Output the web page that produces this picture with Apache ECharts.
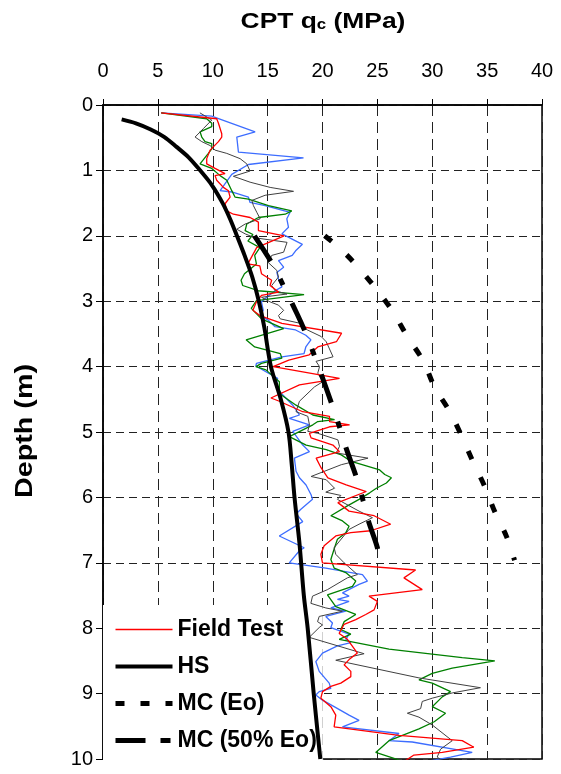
<!DOCTYPE html>
<html><head><meta charset="utf-8">
<script src="https://cdn.jsdelivr.net/npm/echarts@6/dist/echarts.min.js"></script>
<style>html,body{margin:0;padding:0;background:#fff}#c{width:561px;height:774px}</style>
</head><body><div id="c"></div>
<script>
// ---- data: [qc (MPa), depth (m)] ----
const fieldRed = [[5.3,0.12],[10.36,0.21],[10.52,0.28],[10.82,0.44],[10.82,0.49],[10.52,0.56],[9.76,0.69],[9.45,0.82],[9.45,0.90],[10.21,0.97],[11.12,1.05],[10.21,1.08],[10.36,1.15],[10.97,1.26],[11.43,1.31],[11.58,1.41],[11.12,1.51],[11.28,1.62],[11.88,1.67],[13.4,1.72],[14.16,1.79],[14.16,1.92],[16.5,2.0],[14.0,2.18],[13.2,2.43],[14.29,2.46],[14.44,2.58],[15.37,2.68],[15.22,2.76],[16.0,2.86],[14.44,2.91],[13.98,3.01],[13.66,3.14],[14.29,3.22],[16.3,3.34],[21.74,3.49],[21.27,3.62],[19.57,3.70],[18.79,3.82],[16.93,3.90],[15.5,4.0],[21.55,4.18],[17.9,4.28],[15.3,4.48],[16.07,4.53],[18.2,4.69],[20.64,4.76],[20.64,4.84],[22.47,4.89],[20.64,4.92],[18.81,5.02],[18.96,5.09],[20.95,5.20],[21.55,5.30],[19.42,5.40],[19.88,5.55],[20.49,5.70],[22.16,5.81],[23.99,5.91],[21.4,6.08],[22.42,6.21],[24.7,6.28],[26.21,6.41],[24.39,6.51],[22.58,6.54],[21.21,6.59],[20.15,6.74],[19.85,6.87],[20.0,7.0],[28.48,7.11],[27.42,7.23],[29.09,7.41],[24.24,7.51],[25.0,7.59],[24.7,7.72],[23.94,7.79],[23.03,7.87],[21.97,7.94],[21.52,8.08],[22.27,8.17],[23.18,8.38],[22.42,8.48],[21.97,8.56],[22.58,8.66],[22.58,8.74],[21.67,8.84],[20.76,8.89],[20.0,8.97],[19.85,9.07],[20.76,9.20],[21.21,9.33],[21.06,9.51],[26.97,9.64],[32.73,9.72],[33.79,9.82],[30.91,9.90],[28.33,9.94],[27.42,10.04]];
const fieldBlue = [[5.3,0.12],[9.9,0.17],[13.86,0.41],[12.19,0.49],[12.34,0.72],[18.27,0.81],[13.25,0.91],[11.73,1.06],[10.67,1.31],[11.73,1.33],[13.25,1.41],[13.4,1.49],[14.77,1.54],[17.05,1.64],[16.75,1.74],[16.9,1.87],[16.3,1.97],[18.17,2.13],[17.55,2.23],[17.24,2.30],[15.99,2.38],[16.46,2.48],[15.84,2.56],[15.99,2.66],[16.3,2.78],[15.68,2.84],[14.91,2.94],[14.44,3.01],[14.6,3.14],[14.29,3.22],[15.06,3.29],[15.68,3.39],[17.55,3.44],[18.48,3.52],[18.94,3.59],[18.48,3.70],[18.32,3.80],[16.3,3.85],[13.98,3.95],[13.93,3.99],[15.91,4.18],[15.76,4.31],[16.37,4.43],[17.29,4.59],[17.9,4.74],[16.98,4.79],[18.81,4.89],[17.29,4.99],[18.2,5.20],[18.81,5.30],[17.44,5.40],[17.59,5.60],[17.9,5.70],[18.5,5.81],[18.96,5.96],[19.09,6.03],[18.03,6.18],[17.6,6.25],[18.2,6.37],[16.06,6.59],[18.33,6.77],[17.88,6.82],[16.97,7.0],[20.3,7.08],[23.64,7.18],[24.09,7.28],[23.33,7.33],[21.82,7.46],[22.42,7.51],[21.36,7.56],[22.42,7.59],[20.76,7.69],[22.12,7.74],[20.3,7.82],[20.91,7.92],[20.76,7.99],[22.42,8.09],[22.12,8.17],[22.58,8.22],[21.36,8.27],[20.0,8.38],[19.39,8.51],[19.7,8.66],[20.61,8.84],[20.76,8.92],[19.7,8.97],[19.39,9.02],[20.0,9.10],[21.06,9.20],[22.42,9.33],[23.33,9.41],[21.82,9.51],[26.97,9.61],[26.06,9.72],[28.18,9.74],[33.64,9.90],[31.67,9.97],[29.39,10.04]];
const fieldGreen = [[5.3,0.12],[9.45,0.21],[9.91,0.28],[9.91,0.33],[8.84,0.41],[9.0,0.49],[9.3,0.56],[9.91,0.59],[9.91,0.67],[9.6,0.74],[8.84,0.90],[9.91,0.97],[10.67,1.08],[11.28,1.15],[11.73,1.31],[12.04,1.41],[13.25,1.44],[15.08,1.54],[17.2,1.62],[16.6,1.67],[14.16,1.72],[13.1,1.82],[12.95,1.92],[13.66,1.98],[13.2,2.08],[14.29,2.18],[13.82,2.30],[13.98,2.43],[12.89,2.58],[12.58,2.68],[12.73,2.76],[14.13,2.84],[18.32,2.90],[13.98,2.99],[13.51,3.11],[14.44,3.27],[16.46,3.42],[16.61,3.44],[13.04,3.59],[13.82,3.70],[16.15,3.80],[16.3,3.87],[14.44,3.95],[13.93,4.0],[14.85,4.05],[16.07,4.23],[16.07,4.36],[16.22,4.43],[17.59,4.59],[19.12,4.74],[21.1,4.81],[19.57,4.84],[19.12,4.89],[16.98,5.07],[18.51,5.20],[20.34,5.27],[21.71,5.35],[22.62,5.45],[25.21,5.58],[25.67,5.65],[26.28,5.70],[25.82,5.78],[24.91,5.86],[24.3,5.93],[23.33,6.03],[22.27,6.13],[20.76,6.28],[21.82,6.36],[22.42,6.44],[22.12,6.54],[21.36,6.64],[21.06,6.79],[20.76,6.95],[21.06,7.08],[22.12,7.15],[23.03,7.28],[22.73,7.36],[20.45,7.49],[21.21,7.67],[22.27,7.74],[23.03,7.79],[21.97,7.90],[21.67,8.02],[22.58,8.09],[21.52,8.17],[26.06,8.32],[32.73,8.45],[35.7,8.50],[31.82,8.61],[30.0,8.69],[28.79,8.79],[30.0,8.84],[31.67,8.97],[30.91,9.05],[30.0,9.20],[31.21,9.30],[30.18,9.43],[28.79,9.54],[26.06,9.72],[24.85,9.90],[27.42,10.04]];
const fieldGray = [[8.83,0.12],[9.91,0.23],[9.15,0.36],[8.39,0.49],[9.0,0.56],[9.76,0.62],[10.21,0.69],[11.28,0.74],[12.49,0.82],[13.1,0.90],[13.4,1.01],[11.88,1.09],[13.4,1.18],[15.23,1.26],[17.36,1.32],[14.77,1.38],[13.56,1.46],[13.71,1.54],[14.01,1.64],[14.32,1.74],[12.95,1.82],[12.19,1.90],[12.95,1.97],[13.82,2.03],[16.77,2.10],[16.46,2.25],[15.37,2.30],[15.06,2.41],[15.84,2.53],[15.99,2.63],[15.37,2.76],[15.68,2.84],[16.77,2.89],[14.44,2.94],[15.22,3.01],[15.99,3.06],[16.46,3.14],[15.99,3.22],[16.15,3.27],[18.01,3.34],[18.63,3.44],[19.88,3.54],[20.34,3.62],[20.96,3.85],[19.41,3.92],[19.73,4.0],[19.57,4.10],[20.03,4.23],[19.27,4.31],[17.9,4.53],[17.59,4.69],[18.66,4.76],[18.81,4.89],[18.66,4.99],[19.57,5.02],[21.4,5.12],[21.55,5.22],[21.25,5.32],[24.15,5.40],[21.71,5.50],[18.96,5.68],[20.34,5.73],[21.1,5.86],[20.3,5.92],[21.67,5.97],[21.36,6.03],[23.33,6.21],[24.55,6.31],[23.33,6.41],[22.42,6.49],[21.06,6.77],[21.21,6.87],[21.97,7.0],[23.18,7.18],[22.27,7.23],[20.45,7.41],[19.09,7.51],[18.94,7.62],[20.3,7.69],[21.82,7.74],[19.7,7.82],[19.55,7.90],[20.0,7.95],[19.7,7.99],[18.79,8.14],[23.79,8.39],[21.21,8.49],[28.79,8.76],[34.39,8.91],[31.82,8.99],[30.0,9.07],[29.09,9.12],[28.94,9.23],[27.73,9.30],[28.79,9.36],[30.0,9.48],[31.82,9.72],[30.76,9.85],[30.45,9.97],[31.0,10.04]];
const hsCurve = [[1.7,0.22],[3.0,0.28],[4.3,0.37],[5.6,0.49],[6.7,0.64],[7.8,0.8],[8.8,0.99],[9.9,1.22],[10.9,1.5],[11.6,1.75],[12.2,2.0],[12.9,2.3],[13.6,2.63],[14.2,3.0],[14.7,3.4],[15.3,4.0],[16.2,4.5],[16.9,5.0],[17.2,5.5],[17.45,6.0],[17.9,6.7],[18.3,7.5],[18.65,8.0],[19.2,9.0],[19.8,10.0]];
const mcEo = [[20.2,2.0],[21.5,2.18],[22.65,2.37],[24.6,2.75],[26.3,3.13],[27.66,3.52],[29.2,3.92],[30.2,4.31],[31.6,4.69],[32.7,5.07],[33.7,5.45],[34.8,5.84],[35.7,6.22],[36.77,6.6],[37.5,6.96]];
const mc50 = [[13.8,2.0],[15.4,2.42],[16.4,2.75],[17.7,3.2],[18.5,3.5],[19.3,3.85],[20.0,4.17],[20.9,4.6],[21.6,4.95],[22.2,5.27],[23.1,5.7],[23.7,6.05],[24.2,6.37],[25.0,6.77],[25.2,7.0]];
const legendNames = ['Field Test','HS','MC (Eo)','MC (50% Eo)'];
const xTickLabels = ['0','5','10','15','20','25','30','35','40'];
const yTickLabels = ['0','1','2','3','4','5','6','7','8','9','10'];
const xTitle = ['CPT q', 'c', ' (MPa)'];
const yTitle = 'Depth (m)';

const FONT = 'Arial, "Liberation Sans", Helvetica, sans-serif';
const chart = echarts.init(document.getElementById('c'), null, {renderer:'canvas'});
function fieldSeries(name, data, color, width){
  return {name:name, type:'line', data:data, symbol:'none', showSymbol:false, z:5,
    lineStyle:{color:color, width:width}, itemStyle:{color:color}, animation:false};
}
const option = {
  animation:false,
  backgroundColor:'#fff',
  graphic:[
    {type:'text', x:323, y:19, scaleX:1.2, z:10,
      style:{text:'{a|'+xTitle[0]+'}{s|'+xTitle[1]+'}{a|'+xTitle[2]+'}', align:'center', verticalAlign:'middle',
        rich:{
          a:{fontFamily:FONT, fontSize:22, fontWeight:'bold', fill:'#000', color:'#000', lineHeight:27, verticalAlign:'bottom'},
          s:{fontFamily:FONT, fontSize:14, fontWeight:'bold', fill:'#000', color:'#000', lineHeight:23, verticalAlign:'bottom'}
        }}},
    {type:'text', x:26, y:431, rotation:Math.PI/2, scaleX:1.25, z:10,
      style:{text:yTitle, align:'center', verticalAlign:'middle', fill:'#000',
        font:'bold 23px ' + FONT}}
  ],
  grid:{left:103, top:105, width:439, height:654, show:true, borderColor:'#000', borderWidth:1.5, backgroundColor:'transparent'},
  legend:{
    data:[
      {name:'Field Test'},
      {name:'HS'},
      {name:'MC (Eo)', lineStyle:{type:[9,16]}},
      {name:'MC (50% Eo)', lineStyle:{type:[30,15,10,15]}}
    ],
    orient:'vertical', left:103, top:605, padding:[13,6,8,10],
    itemWidth:57, itemHeight:14, itemGap:14,
    backgroundColor:'#fff',
    itemStyle:{opacity:0},
    lineStyle:{width:'inherit'},
    textStyle:{fontFamily:FONT, fontSize:23, fontWeight:'bold', color:'#000', lineHeight:22}
  },
  xAxis:{
    type:'value', position:'top', min:0, max:40, interval:5,
    axisLine:{show:true, onZero:false, lineStyle:{color:'#000', width:1.5}},
    axisTick:{show:true, inside:false, length:6, lineStyle:{color:'#000'}},
    axisLabel:{fontFamily:FONT, fontSize:20, color:'#000', margin:24,
      formatter:(v)=>xTickLabels[Math.round(v/5)] ?? ''},
    splitLine:{show:true, lineStyle:{color:'#222', width:1, type:[11,6]}}
  },
  yAxis:{
    type:'value', inverse:true, min:0, max:10, interval:1,
    axisLine:{show:true, onZero:false, lineStyle:{color:'#000', width:1.5}},
    axisTick:{show:true, inside:false, length:7, lineStyle:{color:'#000'}},
    axisLabel:{fontFamily:FONT, fontSize:20, color:'#000', margin:10,
      formatter:(v)=>yTickLabels[Math.round(v)] ?? ''},
    splitLine:{show:true, lineStyle:{color:'#222', width:1, type:[8,5]}}
  },
  series:[
    fieldSeries('FT blue', fieldBlue, '#3d6dff', 1.3),
    fieldSeries('FT green', fieldGreen, '#008000', 1.3),
    fieldSeries('FT gray', fieldGray, '#404040', 1),
    fieldSeries('Field Test', fieldRed, '#ff0000', 1.3),
    {name:'HS', type:'line', data:hsCurve, symbol:'none', showSymbol:false, smooth:0.3, z:6,
      lineStyle:{color:'#000', width:4}, itemStyle:{color:'#000'}},
    {name:'MC (Eo)', type:'line', data:mcEo, symbol:'none', showSymbol:false, smooth:0.3, z:6,
      lineStyle:{color:'#000', width:5, type:[9,20], cap:'butt'}, itemStyle:{color:'#000'}},
    {name:'MC (50% Eo)', type:'line', data:mc50, symbol:'none', showSymbol:false, smooth:0.3, z:6,
      lineStyle:{color:'#000', width:5, type:[30,20,7,20], cap:'butt'}, itemStyle:{color:'#000'}}
  ]
};
chart.setOption(option);
</script></body></html>
